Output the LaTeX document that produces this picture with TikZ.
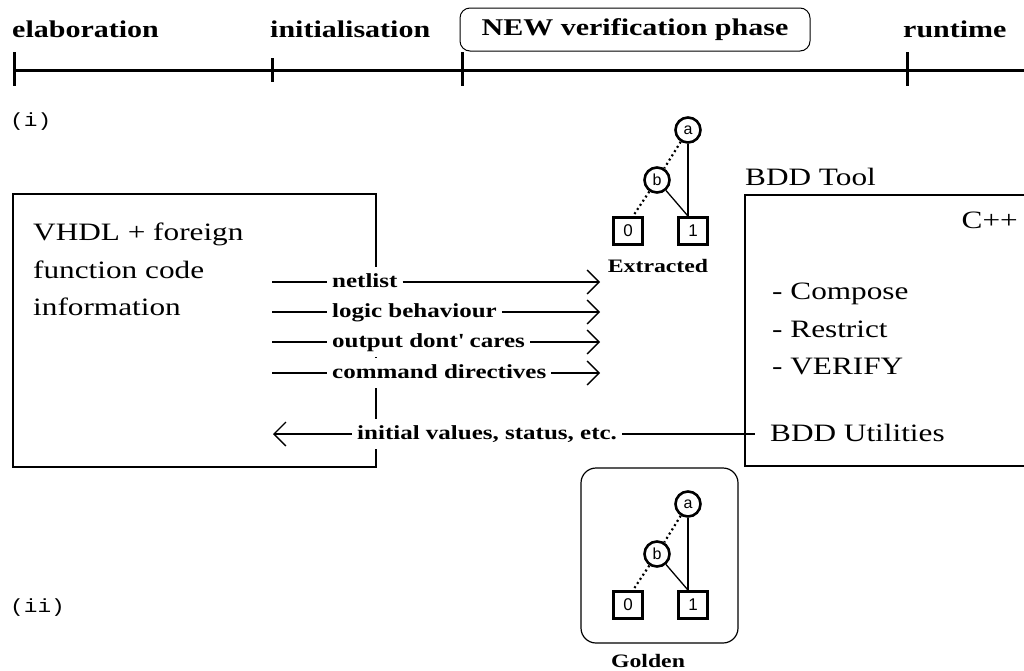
\documentclass[tikz,border=0pt]{standalone}
\usepackage{fontspec}
\setmainfont{Liberation Serif}[FakeStretch=1.25]
\newfontfamily\monofam{Liberation Mono}[FakeStretch=1.2]
\newfontfamily\sansfam{Liberation Sans}
\usetikzlibrary{arrows.meta}

\tikzset{
  every node/.style={inner sep=0pt},
  phase/.style={font=\fontsize{24}{28}\selectfont\bfseries, anchor=base west},
  axis/.style={line width=3pt},
  frame/.style={draw, line width=1.3pt},
  body/.style={font=\fontsize{25}{37.5}\selectfont},
  flowlab/.style={font=\fontsize{20}{24}\selectfont\bfseries, fill=white,
    text height=14pt, text depth=4pt, inner xsep=5pt, inner ysep=6pt, anchor=west},
  flow/.style={line width=1.3pt},
  flowarrow/.style={flow, -{Straight Barb[length=12pt,width=24pt]}},
  decision/.style={circle, draw, line width=2.6pt, minimum size=25pt,
    font=\sansfam\fontsize{16}{16}\selectfont},
  terminal/.style={rectangle, draw, line width=2.8pt, minimum width=29pt,
    minimum height=27pt, font=\sansfam\fontsize{17}{17}\selectfont},
  hi/.style={line width=1.3pt},
  lo/.style={line width=2.2pt, dash pattern=on 2pt off 3pt},
  caption/.style={font=\fontsize{19}{22}\selectfont\bfseries, anchor=base},
  tag/.style={font=\monofam\fontsize{19}{22}\selectfont, anchor=base west},
}

\begin{document}
\begin{tikzpicture}[x=1pt,y=-1pt]
\useasboundingbox (0,0) rectangle (1024,670);

% time line with phase marks
\draw[axis] (13,70) -- (1024,70);
\draw[axis] (14.5,52) -- (14.5,86);
\draw[axis] (272,58) -- (272,82);
\draw[axis] (462,52) -- (462,86);
\draw[axis] (907,52) -- (907,86);
\node[phase] (elab) at (12,37) {elaboration};
\node[phase] (init) at (270,37) {initialisation};
\node[phase, anchor=center, draw, line width=1pt, rounded corners=10pt,
      minimum width=350pt, minimum height=43pt] (verif) at (635,29.5) {NEW verification phase};
\node[phase] (run) at (903,37) {runtime};

% scenario tags
\node[tag] (tagi) at (10,126) {(i)};
\node[tag] (tagii) at (10,612) {(ii)};

% simulator side
\node[frame, minimum width=363pt, minimum height=273pt] (vhdl) at (194.5,330.5) {};
\node[body, anchor=north west, align=left] (vhdltext) at (33,223)
  {VHDL + foreign\\function code\\information};

% BDD tool side
\node[frame, minimum width=360pt, minimum height=271pt] (tool) at (925,330.5) {};
\node[body, anchor=base west] (tooltitle) at (745,185) {BDD Tool};
\node[body, anchor=base east] (cpp) at (1018,228) {C++};
\node[body, anchor=north west, align=left] (ops) at (772,283)
  {- Compose\\- Restrict\\- VERIFY};
\node[body, anchor=base west] (utils) at (770,441) {BDD Utilities};

% data passed to the tool
\coordinate (o1) at (272,282);
\coordinate (o2) at (272,312);
\coordinate (o3) at (272,342);
\coordinate (o4) at (272,373);
\coordinate (t1) at (600,282);
\coordinate (t2) at (600,312);
\coordinate (t3) at (600,342);
\coordinate (t4) at (600,373);
\node[flowlab] (net) at (327,282) {netlist};
\node[flowlab] (logic) at (327,312) {logic behaviour};
\node[flowlab] (dc) at (327,342) {output dont\textquotesingle\ cares};
\node[flowlab] (cmd) at (327,373) {command directives};
\foreach \l/\o/\t in {net/o1/t1, logic/o2/t2, dc/o3/t3, cmd/o4/t4} {
  \draw[flow] (\o) -- (\l);
  \draw[flowarrow] (\l) -- (\t);
}

% results passed back
\coordinate (t5) at (273,434);
\node[flowlab] (back) at (352,434) {initial values, status, etc.};
\draw[flowarrow] (back) -- (t5);
\draw[flow, shorten >=15pt] (back.east) -- (back.east -| utils.west);

% golden reference frame
\node[draw, line width=1.2pt, rounded corners=15pt, minimum width=157pt,
      minimum height=175pt] (goldframe) at (659.5,555.5) {};

% extracted and golden BDDs
\foreach \p/\dy in {ext/0, gold/374} {
  \node[decision] (\p-a) at (688,{130+\dy}) {a};
  \node[decision] (\p-b) at (657,{180+\dy}) {b};
  \node[terminal] (\p-0) at (628,{231+\dy}) {0};
  \node[terminal] (\p-1) at (693,{231+\dy}) {1};
  \draw[lo] (\p-a) -- (\p-b);
  \draw[lo] (\p-b) -- ([xshift=5pt]\p-0.north);
  \draw[hi] (\p-a) -- (\p-a.south |- \p-1.north);
  \draw[hi] (\p-b) -- (\p-a.south |- \p-1.north);
}
\node[caption] (extcap) at (658,272) {Extracted};
\node[caption] (goldcap) at (648,667) {Golden};
\end{tikzpicture}
\end{document}
